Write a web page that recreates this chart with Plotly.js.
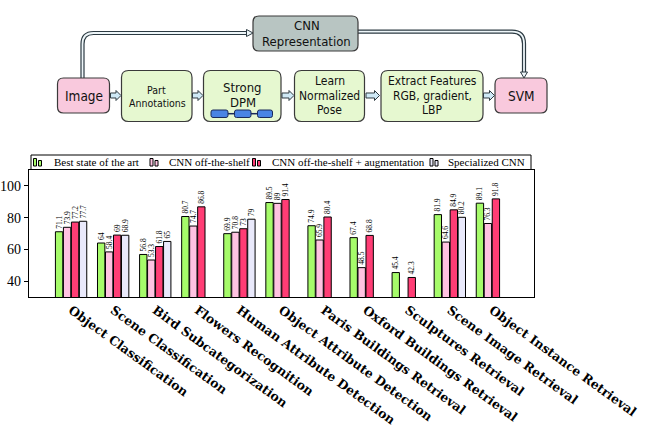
<!DOCTYPE html>
<html><head><meta charset="utf-8">
<script src="https://cdn.plot.ly/plotly-3.0.1.min.js"></script>
<style>html,body{margin:0;padding:0;background:#fff}</style>
</head><body>
<div id="chart" style="width:659px;height:431px"></div>
<script>
// ---- data ----
const categories = ['Object Classification','Scene Classification','Bird Subcategorization','Flowers Recognition','Human Attribute Detection','Object Attribute Detection','Paris Buildings Retrieval','Oxford Buildings Retrieval','Sculptures Retrieval','Scene Image Retrieval','Object Instance Retrieval'];
const seriesNames = ['Best state of the art','CNN off-the-shelf','CNN off-the-shelf + augmentation','Specialized CNN'];
const bestSOTA   = [71.1, 64, 56.8, 80.7, 69.9, 89.5, 74.9, 67.4, 45.4, 81.9, 89.1];
const cnnShelf   = [73.9, 58.4, 53.3, 74.7, 70.8, 89, 65.9, 48.5, null, 64.6, 76.3];
const cnnAug     = [77.2, 69, 61.8, 86.8, 73, 91.4, 80.4, 68.8, 42.3, 84.9, 91.8];
const specCNN    = [77.7, 68.9, 65, null, 79, null, null, null, null, 80.2, null];
const yTicks = [40, 60, 80, 100];

// ---- styles ----
const colors = ['#a6fb6a','#ffc2e1','#ff3d75','#e9e9fb'];
const SERIF = '"Liberation Serif", "Times New Roman", serif';
const BOLDSERIF = '"DejaVu Serif", serif';
const SANS = '"Liberation Sans Narrow", "DejaVu Sans Condensed", "Liberation Sans", Arial, sans-serif';

// pixel -> paper helpers (plot area 29..534 x 170..297)
const L=29, R=534, T=170, B=297, W=R-L, H=B-T;
const px = x => (x-L)/W, py = y => (B-y)/H;
const P = (x,y) => px(x).toFixed(5)+','+py(y).toFixed(5);

function rrect(x0,y0,x1,y1,r){
  return 'M'+P(x0+r,y0)+' L'+P(x1-r,y0)+' Q'+P(x1,y0)+' '+P(x1,y0+r)+
         ' L'+P(x1,y1-r)+' Q'+P(x1,y1)+' '+P(x1-r,y1)+
         ' L'+P(x0+r,y1)+' Q'+P(x0,y1)+' '+P(x0,y1-r)+
         ' L'+P(x0,y0+r)+' Q'+P(x0,y0)+' '+P(x0+r,y0)+' Z';
}
function sh(path, fill, line, lw){
  return {type:'path', xref:'paper', yref:'paper', path:path, fillcolor:fill||'rgba(0,0,0,0)', line:{color:line||'#333', width:lw===undefined?1:lw}, layer:'above'};
}
function blockArrow(x0,x1,cy){
  const hx = x1-5;
  const p='M'+P(x0,cy-2.5)+' L'+P(hx,cy-2.5)+' L'+P(hx,cy-5)+' L'+P(x1,cy)+' L'+P(hx,cy+5)+' L'+P(hx,cy+2.5)+' L'+P(x0,cy+2.5)+' Z';
  return sh(p,'#cfe9f6','#2f3a40',1);
}
function ann(text,x,y,size,family,anchor){
  return {text:text, xref:'paper', yref:'paper', x:px(x), y:py(y), showarrow:false, xanchor:anchor||'center', yanchor:'middle', font:{family:family||SANS, size:size, color:'#111'}};
}

const shapes = [];
const annotations = [];

// connectors (double lines)
const leftConn = 'M'+P(82.5,78)+' L'+P(82.5,44)+' Q'+P(82.5,33)+' '+P(93.5,33)+' L'+P(248,33);
const rightConn = 'M'+P(358,31.7)+' L'+P(512,31.7)+' Q'+P(524,31.7)+' '+P(524,43.7)+' L'+P(524,73);
[leftConn,rightConn].forEach(p=>{ shapes.push(sh(p,null,'#2c3a42',4.2)); shapes.push(sh(p,null,'#eef6f9',1.8)); });
shapes.push(sh('M'+P(246.5,29.5)+' L'+P(253,33)+' L'+P(246.5,36.5)+' Z','#eef6f9','#2c3a42',1));
shapes.push(sh('M'+P(520.5,72)+' L'+P(524,78)+' L'+P(527.5,72)+' Z','#eef6f9','#2c3a42',1));

// boxes
const PINK='#f9c9dd', GREEN='#e6f8d0', GRAY='#b8c5c2', EDGE='#3a3a3a';
shapes.push(sh(rrect(253,16,358,51,6),GRAY,EDGE,1.2));
shapes.push(sh(rrect(57.5,78,109.5,113,6),PINK,EDGE,1.2));
shapes.push(sh(rrect(495,78,547,113,6),PINK,EDGE,1.2));
shapes.push(sh(rrect(121.5,70.5,192,121.5,7),GREEN,EDGE,1.2));
shapes.push(sh(rrect(203.5,70.5,281,121.5,7),GREEN,EDGE,1.2));
shapes.push(sh(rrect(294.5,70.5,364.5,121.5,7),GREEN,EDGE,1.2));
shapes.push(sh(rrect(381,70.5,483,121.5,7),GREEN,EDGE,1.2));
// DPM mini graph
shapes.push(sh('M'+P(228,113.7)+' L'+P(234.5,113.7),null,'#1a2a5a',1.5));
shapes.push(sh('M'+P(251,113.7)+' L'+P(257.5,113.7),null,'#1a2a5a',1.5));
shapes.push(sh(rrect(211,110,228,117.5,2),'#4a84e4','#1a2a5a',1));
shapes.push(sh(rrect(234.5,110,251,117.5,2),'#4a84e4','#1a2a5a',1));
shapes.push(sh(rrect(257.5,110,272.5,117.5,2),'#4a84e4','#1a2a5a',1));
// block arrows
[[110.5,121],[192.5,203],[282,294],[366,379.5],[483.5,494.5]].forEach(a=>shapes.push(blockArrow(a[0],a[1],95.5)));

// box texts
annotations.push(ann('CNN',307,26,13));
annotations.push(ann('Representation',306,41,13));
annotations.push(ann('Image',83.5,96,13.5));
annotations.push(ann('SVM',521,96,13.5));
annotations.push(ann('Part',156.5,89.5,10.5));
annotations.push(ann('Annotations',157,102.5,10.5));
annotations.push(ann('Strong',242.5,87.5,13));
annotations.push(ann('DPM',242.5,102.5,13));
annotations.push(ann('Learn',329.5,81.5,12));
annotations.push(ann('Normalized',329.5,96,12));
annotations.push(ann('Pose',329.5,110,12));
annotations.push(ann('Extract Features',432,81.5,12));
annotations.push(ann('RGB, gradient,',432,96,12));
annotations.push(ann('LBP',432,110,12));

// manual legend
shapes.push({type:'rect', xref:'paper', yref:'paper', x0:px(31), x1:px(531), y0:py(169.5), y1:py(155), line:{color:'#000',width:1}, fillcolor:'#fff', layer:'above'});
const swX=[33.5,150,252.5,430], txX=[51.5,166.5,270,445.5];
seriesNames.forEach((n,i)=>{
  shapes.push({type:'rect', xref:'paper', yref:'paper', x0:px(swX[i]), x1:px(swX[i]+3), y0:py(166), y1:py(158.5), fillcolor:colors[i], line:{color:'#000',width:1}, layer:'above'});
  shapes.push({type:'rect', xref:'paper', yref:'paper', x0:px(swX[i]+5), x1:px(swX[i]+8), y0:py(166), y1:py(160.5), fillcolor:colors[i], line:{color:'#000',width:1}, layer:'above'});
  annotations.push({text:n, xref:'paper', yref:'paper', x:px(txX[i]), y:py(162.3), showarrow:false, xanchor:'left', yanchor:'middle', font:{family:SERIF,size:11,color:'#000'}});
});

const series = [bestSOTA, cnnShelf, cnnAug, specCNN];
const traces = series.map((vals,i)=>({
  type:'bar', name:seriesNames[i], x:categories, y:vals,
  marker:{color:colors[i], line:{color:'#000', width:1}},
  texttemplate:'%{y}', textposition:'outside', textangle:-90,
  textfont:{family:SERIF, size:7.5, color:'#000'},
  cliponaxis:false, constraintext:'none', hoverinfo:'skip'
}));

const layout = {
  width:659, height:431,
  margin:{l:L, r:659-R, t:T, b:431-B, pad:0},
  paper_bgcolor:'#fff', plot_bgcolor:'#fff',
  showlegend:false, barmode:'group', bargap:0.24, bargroupgap:0.08,
  xaxis:{type:'category', range:[-1,11], tickangle:36, ticks:'', showgrid:false,
         showline:true, linecolor:'#000', linewidth:1.3, mirror:true, automargin:false,
         tickfont:{family:BOLDSERIF, size:12.5, weight:'bold', color:'#000'}},
  yaxis:{range:[30,110], tickvals:yTicks, ticks:'outside', ticklen:4, tickcolor:'#000', tickwidth:1,
         showgrid:false, zeroline:false, showline:true, linecolor:'#000', linewidth:1.3, mirror:true,
         automargin:false, tickfont:{family:SERIF, size:14, color:'#000'}},
  yaxis2:{overlaying:'y', side:'right', range:[30,110], tickvals:yTicks, ticks:'inside', ticklen:4,
          tickcolor:'#000', showticklabels:false, showgrid:false, zeroline:false, showline:false, automargin:false},
  shapes:shapes, annotations:annotations
};
Plotly.newPlot('chart', traces, layout, {staticPlot:true, displayModeBar:false});
</script>
</body></html>
